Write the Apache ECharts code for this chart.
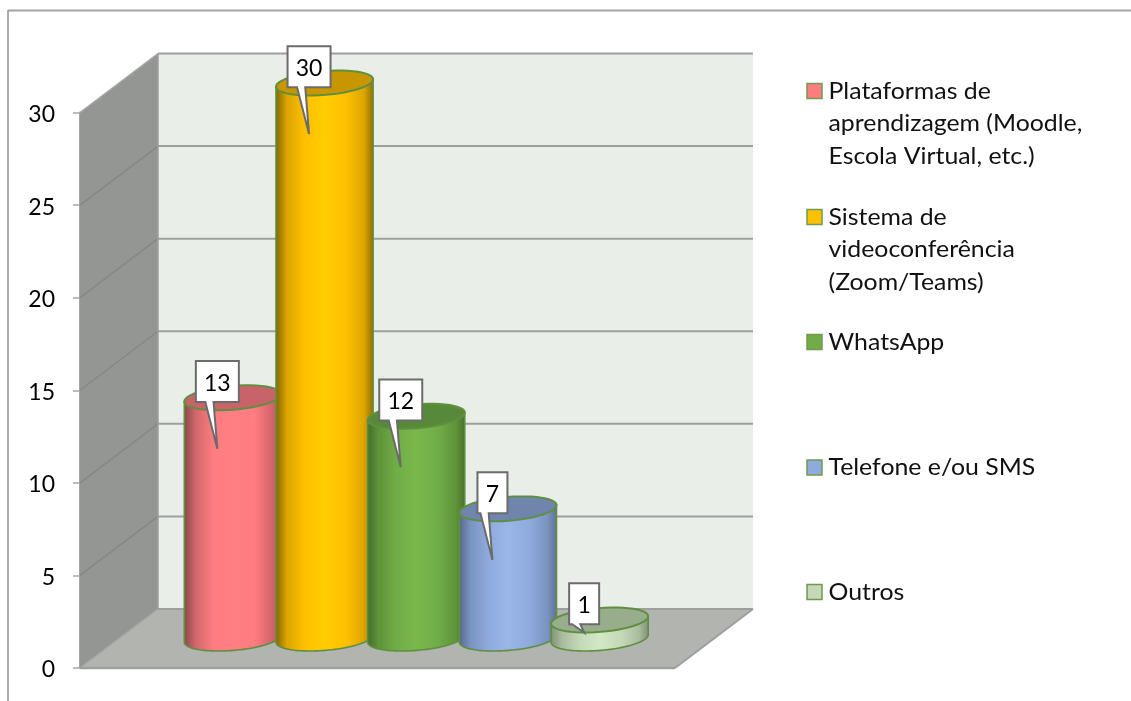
<!DOCTYPE html>
<html><head><meta charset="utf-8">
<style>html,body{margin:0;padding:0;background:#fff}#c{width:1131px;height:701px}</style>
<script src="https://cdn.jsdelivr.net/npm/echarts@6/dist/echarts.min.js"></script>
</head><body><div id="c"></div>
<script>
const categories = ['Plataformas de aprendizagem (Moodle, Escola Virtual, etc.)','Sistema de videoconferência (Zoom/Teams)','WhatsApp','Telefone e/ou SMS','Outros'];
const legendLabels = ['Plataformas de\naprendizagem (Moodle,\nEscola Virtual, etc.)','Sistema de\nvideoconferência\n(Zoom/Teams)','WhatsApp','Telefone e/ou SMS','Outros'];
const values = [13,30,12,7,1];
const yTicks = [0,5,10,15,20,25,30];
const swatchColors = ['#ff7c80','#ffc000','#70ad47','#8faadc','#c5d9b8'];
const topColors = ['#c9636a','#c79600','#578a38','#6f85ae','#98ad8c'];
const bodyStops = [
 ['#84494d','#d0666b','#ff7c80','#ff7f83','#ff7c80','#d0666b','#a85a5e'],
 ['#806400','#dca600','#ffc000','#ffcd00','#ffc000','#dca600','#8a6c00'],
 ['#436b2b','#5f9439','#70ad47','#7ab84e','#70ad47','#5f9439','#47702c'],
 ['#55688a','#7a93c0','#8faadc','#9ab5e8','#8faadc','#7a93c0','#5c7096'],
 ['#7f8f76','#a9bc9e','#c5d9b8','#d2e8c6','#c5d9b8','#a9bc9e','#7f8f76']
];
const stopAt = [0,0.12,0.3,0.5,0.72,0.9,1];
const FONT = 'Lato';
const dx = 78, dy = -59;           // depth offset of the back wall
const midX = 39, midY = -29.5;     // cylinders stand half-way into the depth
const RX = 48.7, RY = 11.9, TILT = -4.7*Math.PI/180;
const EDGE = '#5f8f3f', WALLLINE = '#9d9f9d';

function ell(cx,cy,t){
  return [cx+RX*Math.cos(t)*Math.cos(TILT)-RY*Math.sin(t)*Math.sin(TILT),
          cy+RX*Math.cos(t)*Math.sin(TILT)+RY*Math.sin(t)*Math.cos(TILT)];
}
function arc(cx,cy,a,b){const p=[];for(let i=0;i<=48;i++){p.push(ell(cx,cy,a+(b-a)*i/48));}return p;}

function renderWalls(params,api){
  const left=80, right=675;
  const y0=api.coord([0,0])[1], yTop=api.coord([0,30])[1];
  const kids=[];
  const poly=(pts,fill,stroke,lw)=>kids.push({type:'polygon',shape:{points:pts},style:{fill:fill,stroke:stroke||null,lineWidth:lw||0}});
  const line=(a,b,c,lw)=>kids.push({type:'line',shape:{x1:a[0],y1:a[1],x2:b[0],y2:b[1]},style:{stroke:c,lineWidth:lw}});
  poly([[left+dx,yTop+dy],[right+dx,yTop+dy],[right+dx,y0+dy],[left+dx,y0+dy]],'#e9efe8');
  poly([[left,yTop],[left+dx,yTop+dy],[left+dx,y0+dy],[left,y0]],'#939693');
  poly([[left,y0],[left+dx,y0+dy],[right+dx,y0+dy],[right,y0]],'#b1b4af');
  yTicks.forEach(v=>{
    const y=api.coord([0,v])[1];
    line([left,y],[left+dx,y+dy],(v===30||v===0)?'#a6a8a6':'#858886',1.5);
    if(v>0) line([left+dx,y+dy],[right+dx,y+dy],WALLLINE,2);
  });
  line([left+dx,y0+dy],[right+dx,y0+dy],WALLLINE,2);
  line([left+dx,yTop+dy],[left+dx,y0+dy],WALLLINE,1.5);
  line([right+dx,y0+dy],[right,y0],WALLLINE,2);
  line([left,y0],[right,y0],WALLLINE,2.5);
  return {type:'group',children:kids};
}

function renderCylinder(params,api){
  const i=api.value(0), v=api.value(1);
  const base=api.coord([i,0]), top=api.coord([i,v]);
  const cx=base[0]+midX, by=base[1]+midY, ty=top[1]+midY;
  const bodyPts=[ell(cx,ty,Math.PI)].concat(arc(cx,by,Math.PI,0)).concat([ell(cx,ty,0)]);
  const grad={type:'linear',x:0,y:0,x2:1,y2:0,colorStops:stopAt.map((o,k)=>({offset:o,color:bodyStops[i][k]}))};
  return {type:'group',children:[
    {type:'polygon',shape:{points:bodyPts},style:{fill:grad,stroke:EDGE,lineWidth:1.6}},
    {type:'polygon',shape:{points:arc(cx,ty,0,2*Math.PI)},style:{fill:topColors[i],stroke:EDGE,lineWidth:2}}
  ]};
}

function renderCallout(params,api){
  const i=api.value(0), v=api.value(1);
  const base=api.coord([i,0]), top=api.coord([i,v]);
  const cx=base[0]+midX-15.5, by=base[1]+midY, ty=top[1]+midY;
  const w=String(v).length>1?43:30, h=41;
  const bottom=ty+4.3, tip=Math.min(ty+51,by-6);
  const l=cx-w/2, t=bottom-h;
  const pts=[[l,t],[l+w,t],[l+w,bottom],[cx-3.8,bottom],[cx,tip],[cx-12,bottom],[l,bottom]];
  return {type:'group',children:[
    {type:'polygon',shape:{points:pts},style:{fill:'#fff',stroke:'#6b6b6b',lineWidth:2,lineJoin:'miter'}},
    {type:'text',style:{x:cx,y:t+h/2+1.5,text:String(v),fill:'#000',font:'23px '+FONT,textAlign:'center',textVerticalAlign:'middle'}}
  ]};
}

const graphic=[
  {type:'line',shape:{x1:8,y1:10.5,x2:1131,y2:10.5},style:{stroke:'#a3a3a3',lineWidth:1.8},silent:true},
  {type:'line',shape:{x1:8,y1:10,x2:8,y2:701},style:{stroke:'#a3a3a3',lineWidth:1.8},silent:true}
];
const legendY=[91,217,342,467.5,592];
categories.forEach((c,i)=>{
  graphic.push({type:'rect',shape:{x:807,y:legendY[i]-7.5,width:15,height:15},style:{fill:swatchColors[i],stroke:'#6f9a50',lineWidth:1.5}});
  graphic.push({type:'text',x:828.5,y:legendY[i]-16,scaleX:1.08,style:{text:legendLabels[i],font:'23px '+FONT,fill:'#111',lineHeight:32.5,textAlign:'left',textVerticalAlign:'top'}});
});

const chart=echarts.init(document.getElementById('c'),null,{renderer:'canvas'});
const seriesData=values.map((v,i)=>[i,v]);
chart.setOption({
  animation:false,
  backgroundColor:'#fff',
  grid:{left:148,width:458.5,top:112.5,height:555.5},
  xAxis:{type:'category',data:categories,show:false},
  yAxis:{type:'value',min:0,max:30,interval:5,offset:68,
    axisLine:{show:true,lineStyle:{color:'#a6a6a6',width:2}},
    axisTick:{show:true,length:7,lineStyle:{color:'#a6a6a6',width:1.5}},
    splitLine:{show:false},
    axisLabel:{margin:25,color:'#000',fontFamily:FONT,fontSize:23,formatter:'{a|{value}}',
      rich:{a:{color:'#000',fontFamily:FONT,fontSize:23,padding:[4,0,0,0]}}}},
  graphic:graphic,
  series:[
    {type:'custom',name:'walls',coordinateSystem:'cartesian2d',data:[[0,0]],renderItem:renderWalls,silent:true,z:1},
    {type:'custom',name:'Respostas',coordinateSystem:'cartesian2d',data:seriesData,encode:{x:0,y:1},renderItem:renderCylinder,clip:false,z:2},
    {type:'custom',name:'Rótulos',coordinateSystem:'cartesian2d',data:seriesData,encode:{x:0,y:1},renderItem:renderCallout,clip:false,z:3}
  ]
});
</script></body></html>
